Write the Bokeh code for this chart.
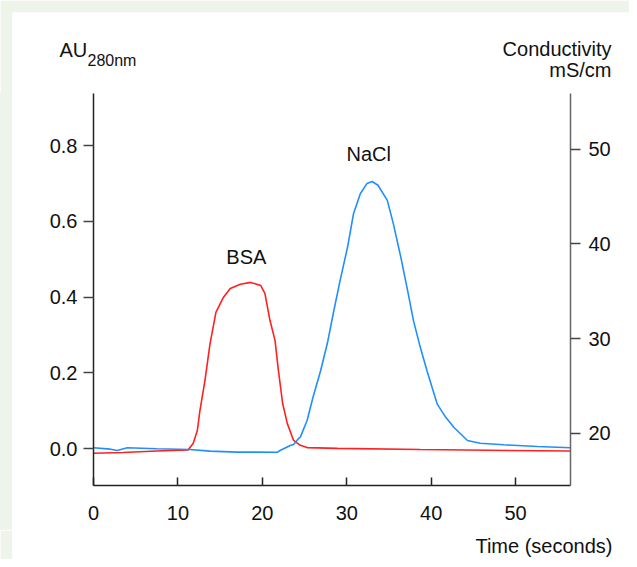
from bokeh.plotting import figure
from bokeh.models import Range1d, LinearAxis, FixedTicker, PrintfTickFormatter, Label, Spacer
from bokeh.layouts import column, row
from bokeh.embed import file_html
from bokeh.resources import INLINE

# BSA absorbance (left axis, AU 280nm)
t_bsa = [0, 3.5, 7.5, 11.2, 11.8, 12.3, 12.6, 13.2, 13.8, 14.5, 15.4, 16.2, 17.4, 18.6,
         19.8, 20.3, 20.9, 21.5, 21.9, 22.4, 22.95, 23.7, 24.5, 25.3, 28.9, 38.7, 46.7, 56.5]
au_bsa = [-0.012, -0.010, -0.006, -0.003, 0.014, 0.048, 0.10, 0.18, 0.277, 0.36, 0.40, 0.423,
          0.434, 0.439, 0.431, 0.41, 0.339, 0.286, 0.207, 0.12, 0.067, 0.022, 0.009, 0.003,
          0.001, -0.002, -0.004, -0.006]

# NaCl conductivity (right axis, mS/cm)
t_nacl = [0, 2, 2.8, 4, 7.5, 11.4, 13.8, 17, 21.8, 22.1, 23.3, 23.7, 24.3, 24.5, 25.3, 26.0,
          26.9, 27.7, 28.4, 29.2, 30.1, 30.8, 31.6, 32.4, 33.0, 33.7, 34.8, 35.5, 36.4, 37.2,
          37.9, 38.7, 39.5, 40.7, 41.7, 42.7, 44.3, 45.8, 48.6, 52.6, 56.5]
cond_nacl = [18.46, 18.31, 18.17, 18.46, 18.35, 18.28, 18.1, 18.0, 17.99, 18.17, 18.7, 18.8,
             19.44, 19.58, 21.34, 23.8, 26.6, 29.5, 32.65, 36.1, 39.7, 43.2, 45.3, 46.4, 46.6,
             46.2, 44.6, 42.2, 38.6, 35.1, 31.9, 29.1, 26.6, 23.1, 21.7, 20.6, 19.23, 18.94,
             18.77, 18.59, 18.46]

x_ticks = [0, 10, 20, 30, 40, 50]
left_ticks = [0.0, 0.2, 0.4, 0.6, 0.8]
right_ticks = [20, 30, 40, 50]

FONT = "Liberation Sans"
TXT = "#111111"
GREEN = "#eef4ea"
W = 629
EDGE = 12          # light green page strip on left / top
HEAD_H = 93        # header band (axis titles)
MAIN_H = 437       # plot band
FOOT_H = 29        # footer band (x axis title)


def text_band(width, height, top_border, y0):
    """A figure with no axes whose frame is a blank text area (pixel coordinates)."""
    f = figure(width=width, height=height, output_backend="svg", toolbar_location=None,
               x_range=Range1d(EDGE, width), y_range=Range1d(y0 + height, y0 + top_border),
               min_border_left=EDGE, min_border_right=0, min_border_top=top_border,
               min_border_bottom=0)
    f.axis.visible = False
    f.grid.visible = False
    f.outline_line_color = None
    f.background_fill_color = "white"
    f.border_fill_color = GREEN
    return f


def lab(fig, x, y, text, size, align="left"):
    fig.add_layout(Label(x=x, y=y, text=text, text_font=FONT, text_font_size=size,
                         text_color=TXT, text_align=align, text_baseline="middle"))


# header with axis titles
head = text_band(W, HEAD_H, EDGE, 0)
lab(head, 59, 49, "AU", "20px", "left")
lab(head, 87, 60, "280nm", "16px", "left")
lab(head, 611, 48, "Conductivity", "20px", "right")
lab(head, 611, 69, "mS/cm", "20px", "right")

# main chart
p = figure(width=W - EDGE, height=MAIN_H, output_backend="svg", toolbar_location=None,
           x_range=Range1d(0, 56.5), y_range=Range1d(-0.097, 0.9375),
           min_border_left=81, min_border_right=59, min_border_top=0, min_border_bottom=45)
p.extra_y_ranges = {"cond": Range1d(14.47, 55.9)}
p.grid.visible = False
p.outline_line_color = None
p.background_fill_color = "white"
p.border_fill_color = "white"

p.line(t_bsa, au_bsa, line_color="#ff2020", line_width=1.6)
p.line(t_nacl, cond_nacl, line_color="#1f8fff", line_width=1.6, y_range_name="cond")

xa = p.xaxis[0]
xa.ticker = FixedTicker(ticks=x_ticks)
xa.major_tick_in = 8
xa.major_tick_out = 0
xa.minor_tick_line_color = None
xa.axis_line_color = "#222222"
xa.major_tick_line_color = "#222222"
xa.major_label_standoff = 20

ya = p.yaxis[0]
ya.ticker = FixedTicker(ticks=left_ticks)
ya.formatter = PrintfTickFormatter(format="%.1f")
ya.major_tick_in = 0
ya.major_tick_out = 10
ya.minor_tick_line_color = None
ya.axis_line_color = "#222222"
ya.major_tick_line_color = "#444444"
ya.major_label_standoff = 6

ra = LinearAxis(y_range_name="cond", ticker=FixedTicker(ticks=right_ticks))
ra.major_tick_in = 0
ra.major_tick_out = 10
ra.minor_tick_line_color = None
ra.axis_line_color = "#666666"
ra.major_tick_line_color = "#444444"
ra.major_label_standoff = 8
p.add_layout(ra, "right")

for ax in (xa, ya, ra):
    ax.major_label_text_font = FONT
    ax.major_label_text_font_size = "20px"
    ax.major_label_text_color = TXT
    ax.axis_line_width = 1.5
    ax.major_tick_line_width = 1.5

lab(p, 18.1, 0.507, "BSA", "20px", "center")
lab(p, 32.6, 0.779, "NaCl", "20px", "center")

# footer with x axis title
foot = text_band(W, FOOT_H, 0, HEAD_H + MAIN_H)
lab(foot, 612, 545, "Time (seconds)", "20px", "right")

left_strip = Spacer(width=EDGE, height=MAIN_H, styles={"background-color": GREEN})

layout = column(head, row(left_strip, p), foot)

open("out.html", "w").write(file_html(layout, INLINE))
